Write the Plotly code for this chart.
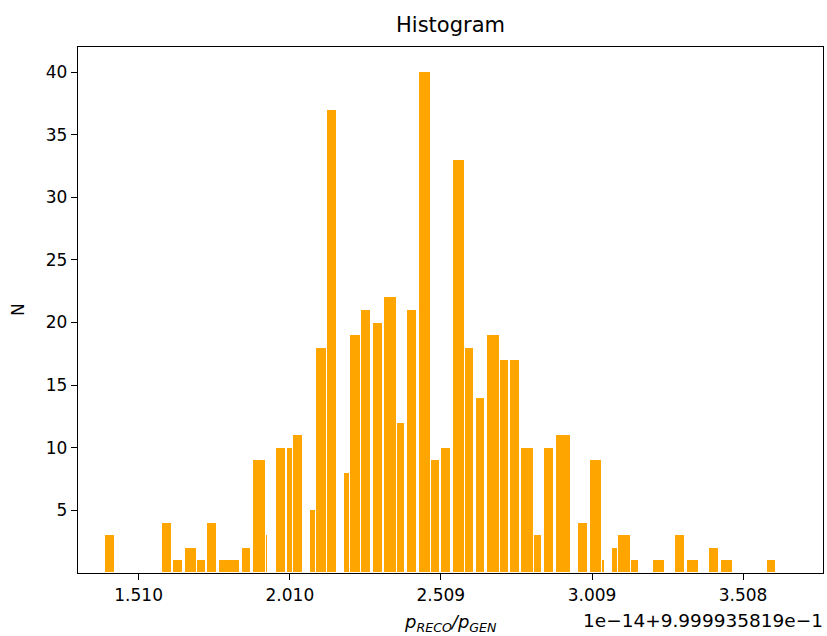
import plotly.graph_objects as go

# Histogram bins (x in units of 1e-14, offset 9.999935819e-1)
left_edges = [1.3979, 1.5874, 1.6251, 1.6624, 1.7021, 1.7375, 1.7759, 1.8509, 1.8883, 1.9303,
              1.9657, 2.0021, 2.0206, 2.0768, 2.0957, 2.1330, 2.1892, 2.2091, 2.2455, 2.2832,
              2.3215, 2.3635, 2.3976, 2.4353, 2.4769, 2.5100, 2.5487, 2.5894, 2.6248, 2.6621,
              2.7031, 2.7372, 2.7746, 2.8165, 2.8506, 2.8883, 2.9630, 3.0017, 3.0424, 3.0761,
              3.0953, 3.1363, 3.2091, 3.2838, 3.3215, 3.3963, 3.4350, 3.5861]
right_edges = [1.4310, 1.6195, 1.6568, 1.7021, 1.7319, 1.7693, 1.8443, 1.8830, 1.9303, 1.9392,
               1.9974, 2.0206, 2.0527, 2.0957, 2.1330, 2.1661, 2.2091, 2.2455, 2.2785, 2.3172,
               2.3635, 2.3910, 2.4297, 2.4769, 2.5057, 2.5431, 2.5894, 2.6181, 2.6555, 2.7031,
               2.7329, 2.7693, 2.8165, 2.8440, 2.8827, 2.9389, 2.9951, 3.0424, 3.0514, 3.0953,
               3.1363, 3.1648, 3.2497, 3.3169, 3.3632, 3.4293, 3.4756, 3.6178]
counts = [3, 4, 1, 2, 1, 4, 1, 2, 9, 3,
          10, 10, 11, 5, 18, 37, 8, 19, 21, 20,
          22, 12, 21, 40, 9, 10, 33, 18, 14, 19,
          17, 17, 10, 3, 10, 11, 4, 9, 1, 2,
          3, 1, 1, 3, 1, 2, 1, 1]

x_tick_vals = [1.510, 2.010, 2.509, 3.009, 3.508]
x_tick_text = ["1.510", "2.010", "2.509", "3.009", "3.508"]
y_tick_vals = [5, 10, 15, 20, 25, 30, 35, 40]

centers = [(l + r) / 2 for l, r in zip(left_edges, right_edges)]
widths = [r - l for l, r in zip(left_edges, right_edges)]

fig = go.Figure(go.Bar(
    x=centers, y=counts, width=widths,
    marker=dict(color="#FFA500", line=dict(color="white", width=1)),
))

FONT = "DejaVu Sans"
fig.update_layout(
    width=827, height=636,
    margin=dict(l=78, r=4, t=47, b=63, autoexpand=False),
    paper_bgcolor="white", plot_bgcolor="white",
    showlegend=False,
    font=dict(family=FONT, size=17, color="black"),
    title=dict(text="Histogram", x=0.5, xref="paper", xanchor="center",
               y=1 - 25 / 636, yref="container", yanchor="middle",
               font=dict(family=FONT, size=21, color="black")),
    bargap=0,
)
fig.update_xaxes(range=[1.3096, 3.7723], tickvals=x_tick_vals, ticktext=x_tick_text,
                 showgrid=False, zeroline=False, showline=True, linecolor="black",
                 linewidth=1.3, mirror=True, ticks="outside", ticklen=6, tickwidth=1.3,
                 tickcolor="black", tickfont=dict(size=17))
fig.update_yaxes(range=[0, 42], tickvals=y_tick_vals,
                 showgrid=False, zeroline=False, showline=True, linecolor="black",
                 linewidth=1.3, mirror=True, ticks="outside", ticklen=6, tickwidth=1.3,
                 tickcolor="black", tickfont=dict(size=17))

fig.add_annotation(text="N", xref="paper", yref="paper", x=0, y=0.5, xanchor="center",
                   yanchor="middle", xshift=-60, textangle=-90, showarrow=False,
                   font=dict(family=FONT, size=17, color="black"))
fig.add_annotation(text="<i>p</i><sub><i>RECO</i></sub><i>/p</i><sub><i>GEN</i></sub>",
                   xref="paper", yref="paper", x=0.5, y=0, xanchor="center", yanchor="middle",
                   yshift=-50, showarrow=False, font=dict(family=FONT, size=18, color="black"))
fig.add_annotation(text="1e\u221214+9.999935819e\u22121", xref="paper", yref="paper",
                   x=1, y=0, xanchor="right", yanchor="middle", yshift=-47, xshift=2,
                   showarrow=False, font=dict(family=FONT, size=18.5, color="black"))

fig.write_html("out.html", config={"displayModeBar": False},
               post_script="document.body.style.margin='0';")
